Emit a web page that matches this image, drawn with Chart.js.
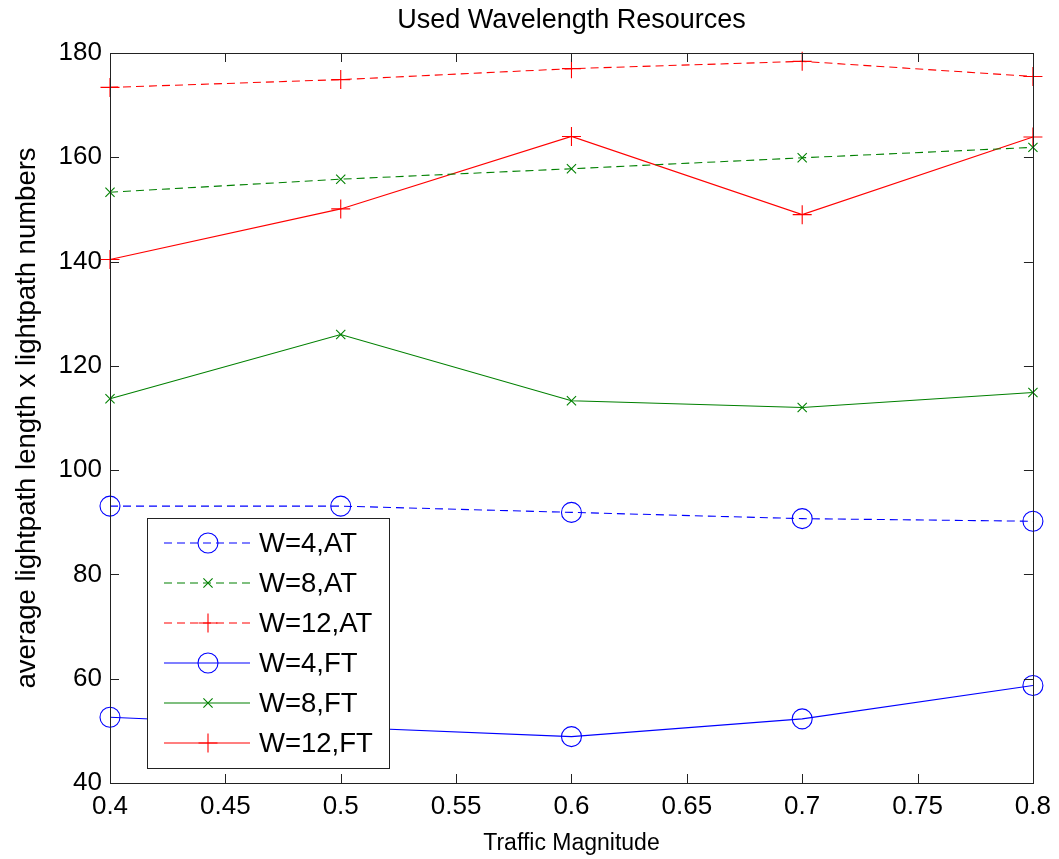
<!DOCTYPE html>
<html>
<head>
<meta charset="utf-8">
<title>Used Wavelength Resources</title>
<script src="https://cdn.jsdelivr.net/npm/chart.js@4.4.1/dist/chart.umd.min.js"></script>
<style>
  html, body { margin: 0; padding: 0; background: #fff; }
  canvas { display: block; }
</style>
</head>
<body>
<canvas id="chart" width="1059" height="859"></canvas>
<script>
// values, one array per curve
var traffic = [0.4, 0.5, 0.6, 0.7, 0.8];
var w4AT  = [93.1, 93.1, 91.9, 90.7, 90.2];
var w8AT  = [153.3, 155.8, 157.8, 159.9, 161.9];
var w12AT = [173.4, 174.9, 177.0, 178.4, 175.5];
var w4FT  = [52.6, 50.7, 48.9, 52.3, 58.7];
var w8FT  = [113.7, 126.0, 113.3, 112.0, 114.9];
var w12FT = [140.4, 150.1, 164.0, 149.0, 163.9];
var seriesNames = ['W=4,AT', 'W=8,AT', 'W=12,AT', 'W=4,FT', 'W=8,FT', 'W=12,FT'];
var xTicks = [0.4, 0.45, 0.5, 0.55, 0.6, 0.65, 0.7, 0.75, 0.8];
var yTicks = [40, 60, 80, 100, 120, 140, 160, 180];
var chartTitle = 'Used Wavelength Resources';

var FONT = "'Liberation Sans', Arial, sans-serif";
var BLUE = '#0000ff', GREEN = '#008000', RED = '#ff0000';
var DASH = [8, 5];
var styles = [
  {color: BLUE,  dash: DASH, point: 'circle',   r: 10},
  {color: GREEN, dash: DASH, point: 'crossRot', r: 6.5},
  {color: RED,   dash: DASH, point: 'cross',    r: 9.5},
  {color: BLUE,  dash: [],   point: 'circle',   r: 10},
  {color: GREEN, dash: [],   point: 'crossRot', r: 6.5},
  {color: RED,   dash: [],   point: 'cross',    r: 9.5}
];
var allSeries = [w4AT, w8AT, w12AT, w4FT, w8FT, w12FT];

Chart.defaults.font.family = FONT;
Chart.defaults.color = '#000';

function pairs(ys) {
  return traffic.map(function (x, i) { return {x: x, y: ys[i]}; });
}

var datasets = allSeries.map(function (ys, i) {
  var s = styles[i];
  return {
    label: seriesNames[i],
    data: pairs(ys),
    borderColor: s.color,
    backgroundColor: 'transparent',
    borderWidth: 1.1,
    borderDash: s.dash,
    pointStyle: s.point,
    pointRadius: s.r,
    pointBorderWidth: 1.1,
    pointBorderColor: s.color,
    pointBackgroundColor: 'transparent',
    tension: 0,
    clip: false
  };
});

// matlab-ish frame: box all round, ticks pointing inward on every side
var boxTicks = {
  id: 'boxTicks',
  afterDatasetsDraw: function (chart) {
    var a = chart.chartArea, ctx = chart.ctx;
    var xs = chart.scales.x, ys = chart.scales.y;
    var len = 9;
    ctx.save();
    ctx.strokeStyle = '#222';
    ctx.lineWidth = 1;
    ctx.setLineDash([]);
    ctx.strokeRect(Math.round(a.left) + 0.5, Math.round(a.top) + 0.5,
      Math.round(a.right - a.left), Math.round(a.bottom - a.top));
    ctx.beginPath();
    xTicks.forEach(function (v) {
      var px = Math.round(xs.getPixelForValue(v)) + 0.5;
      ctx.moveTo(px, a.bottom); ctx.lineTo(px, a.bottom - len);
      ctx.moveTo(px, a.top); ctx.lineTo(px, a.top + len);
    });
    yTicks.forEach(function (v) {
      var py = Math.round(ys.getPixelForValue(v)) + 0.5;
      ctx.moveTo(a.left, py); ctx.lineTo(a.left + len, py);
      ctx.moveTo(a.right, py); ctx.lineTo(a.right - len, py);
    });
    ctx.stroke();
    // title centred over the axes, not the whole canvas
    ctx.fillStyle = '#000';
    ctx.font = '27px ' + FONT;
    ctx.textAlign = 'center';
    ctx.textBaseline = 'middle';
    ctx.fillText(chartTitle, (a.left + a.right) / 2, a.top - 32);
    ctx.restore();
  }
};

function marker(ctx, style, r, x, y) {
  ctx.beginPath();
  if (style === 'circle') {
    ctx.arc(x, y, r, 0, Math.PI * 2);
  } else if (style === 'cross') {
    ctx.moveTo(x - r, y); ctx.lineTo(x + r, y);
    ctx.moveTo(x, y - r); ctx.lineTo(x, y + r);
  } else {
    var d = r * Math.SQRT1_2;
    ctx.moveTo(x - d, y - d); ctx.lineTo(x + d, y + d);
    ctx.moveTo(x - d, y + d); ctx.lineTo(x + d, y - d);
  }
  ctx.stroke();
}

// boxed legend sitting inside the plot, lower left
var innerLegend = {
  id: 'innerLegend',
  afterDraw: function (chart) {
    var a = chart.chartArea, ctx = chart.ctx;
    var bx = a.left + 37, bw = 242, bh = 250;
    var by = a.bottom - 15 - bh;
    ctx.save();
    ctx.fillStyle = '#fff';
    ctx.fillRect(bx, by, bw, bh);
    ctx.strokeStyle = '#222';
    ctx.lineWidth = 1;
    ctx.strokeRect(Math.round(bx) + 0.5, Math.round(by) + 0.5, bw, bh);
    ctx.font = '27.5px ' + FONT;
    ctx.textBaseline = 'middle';
    ctx.textAlign = 'left';
    seriesNames.forEach(function (name, i) {
      var s = styles[i];
      var y = Math.round(by + 25 + i * 40);
      ctx.strokeStyle = s.color;
      ctx.lineWidth = 1.1;
      ctx.setLineDash(s.dash);
      ctx.beginPath();
      ctx.moveTo(bx + 17, y); ctx.lineTo(bx + 103, y);
      ctx.stroke();
      ctx.setLineDash([]);
      marker(ctx, s.point, s.r, bx + 61, y);
      ctx.fillStyle = '#000';
      ctx.fillText(name, bx + 112, y + 1);
    });
    ctx.restore();
  }
};

var myChart = new Chart(document.getElementById('chart'), {
  type: 'line',
  data: {datasets: datasets},
  options: {
    responsive: false,
    animation: false,
    layout: {padding: {left: 0, right: 24, top: 53, bottom: 0}},
    scales: {
      x: {
        type: 'linear',
        min: 0.4,
        max: 0.8,
        afterBuildTicks: function (s) { s.ticks = xTicks.map(function (v) { return {value: v}; }); },
        afterFit: function (s) { s.height = 76; },
        grid: {display: false, drawTicks: false},
        border: {display: false},
        ticks: {
          autoSkip: false,
          maxRotation: 0,
          padding: 8,
          font: {size: 26},
          callback: function (v) { return String(+(+v).toFixed(2)); }
        },
        title: {display: true, text: 'Traffic Magnitude', font: {size: 23}, padding: {top: 0, bottom: 2}}
      },
      y: {
        min: 40,
        max: 180,
        afterBuildTicks: function (s) { s.ticks = yTicks.map(function (v) { return {value: v}; }); },
        afterFit: function (s) { s.width = 110; },
        grid: {display: false, drawTicks: false},
        border: {display: false},
        ticks: {padding: 8, font: {size: 26}},
        title: {display: true, text: 'average lightpath length x lightpath numbers', font: {size: 27.5}, padding: {top: 11, bottom: 0}}
      }
    },
    plugins: {
      legend: {display: false},
      tooltip: {enabled: false},
      title: {display: false}
    }
  },
  plugins: [boxTicks, innerLegend]
});
</script>
</body>
</html>
